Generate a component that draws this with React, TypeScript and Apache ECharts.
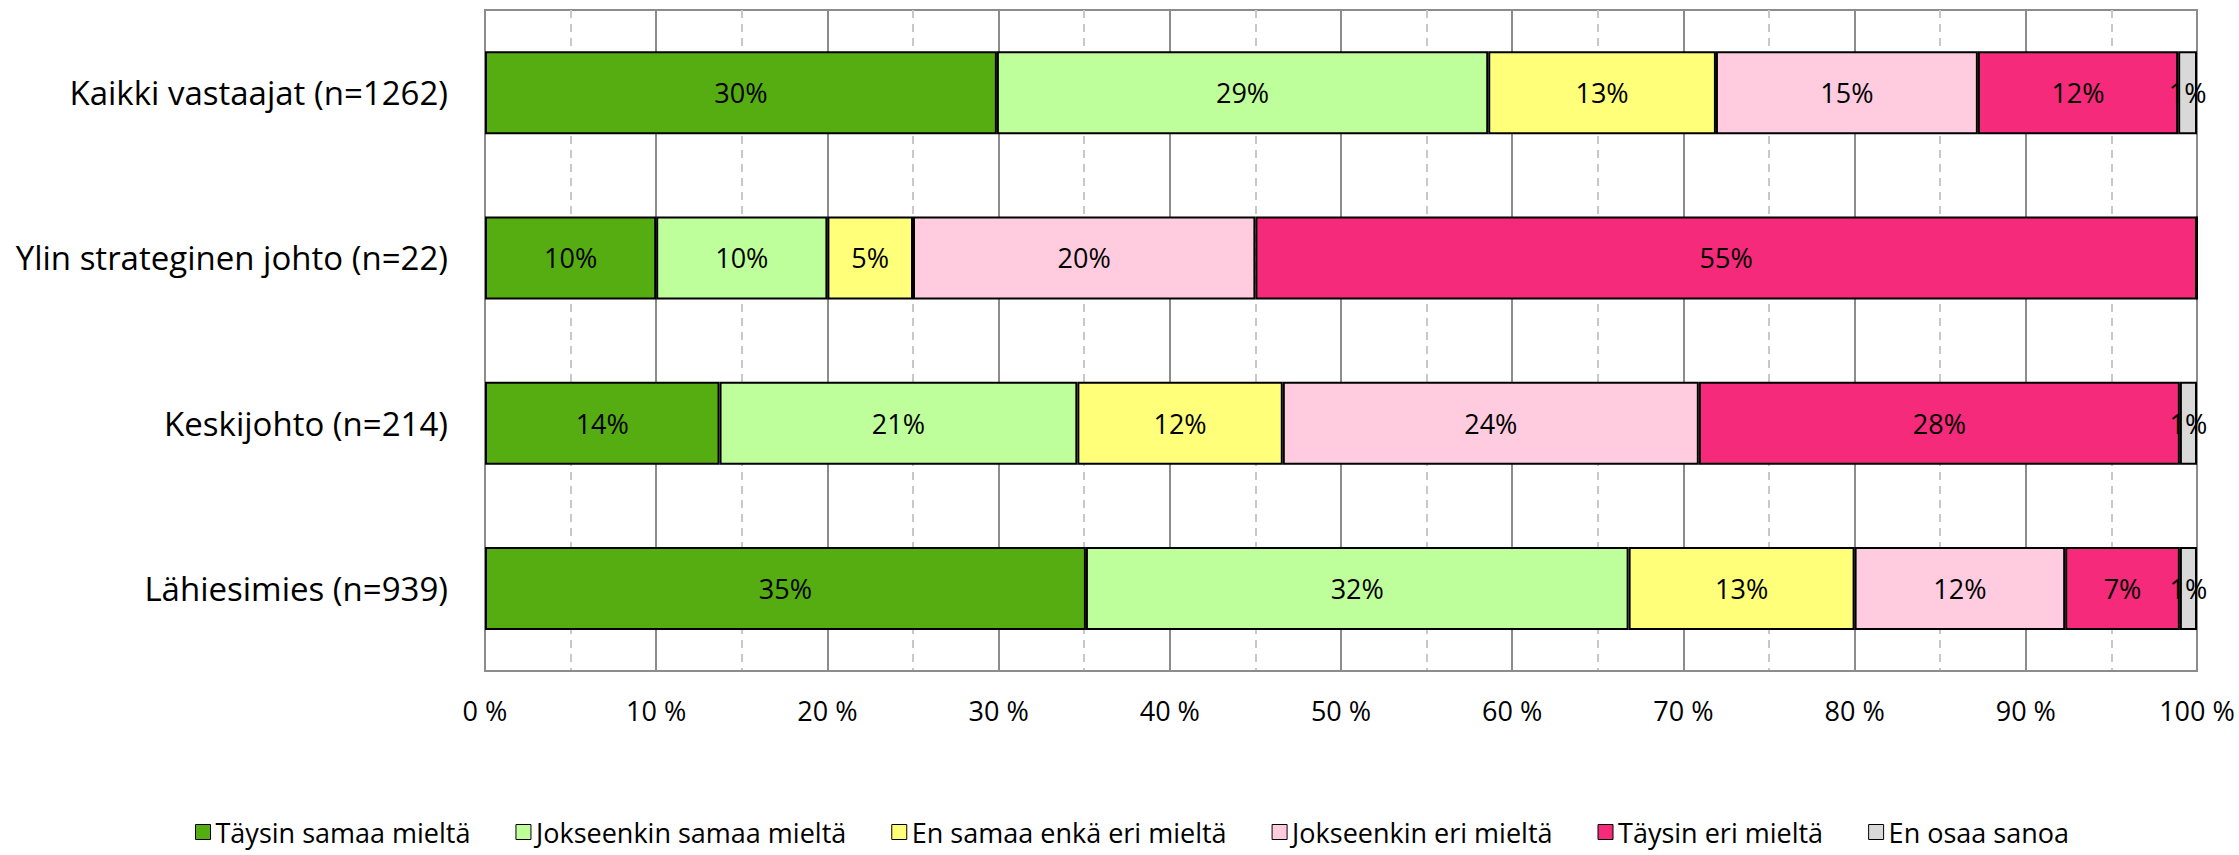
import React, { useEffect, useRef } from 'react';
import * as echarts from 'echarts';

const categories = [
  'Kaikki vastaajat (n=1262)',
  'Ylin strateginen johto (n=22)',
  'Keskijohto (n=214)',
  'Lähiesimies (n=939)',
];
const seriesNames = [
  'Täysin samaa mieltä',
  'Jokseenkin samaa mieltä',
  'En samaa enkä eri mieltä',
  'Jokseenkin eri mieltä',
  'Täysin eri mieltä',
  'En osaa sanoa',
];
const taysinSamaa = [29.9, 10, 13.7, 35.1];
const jokseenkinSamaa = [28.7, 10, 20.9, 31.7];
const enSamaaEnkaEri = [13.3, 5, 12.0, 13.2];
const jokseenkinEri = [15.3, 20, 24.3, 12.3];
const taysinEri = [11.7, 55, 28.1, 6.7];
const enOsaa = [1.1, 0, 1.0, 1.0];
const xTicks = [0, 10, 20, 30, 40, 50, 60, 70, 80, 90, 100];

const seriesValues = [taysinSamaa, jokseenkinSamaa, enSamaaEnkaEri, jokseenkinEri, taysinEri, enOsaa];
const colors = ['#55AD11', '#BFFF9B', '#FFFF7A', '#FFCCDF', '#F52A7A', '#D9D9D9'];

const FONT = 'Open Sans';

export default function App() {
  const ref = useRef<HTMLDivElement>(null);
  useEffect(() => {
    if (!ref.current) return;
    const chart = echarts.init(ref.current, null, { renderer: 'svg' });
    chart.setOption({
      animation: false,
      textStyle: { fontFamily: FONT, color: '#000' },
      grid: {
        left: 485,
        right: 42,
        top: 10,
        bottom: 184,
        show: true,
        borderColor: '#8C8C8C',
        borderWidth: 2,
      },
      legend: {
        data: seriesNames,
        left: 195,
        top: 817,
        padding: 0,
        itemWidth: 15,
        itemHeight: 15,
        itemGap: 45,
        icon: 'rect',
        textStyle: { fontFamily: FONT, fontSize: 27, lineHeight: 30, color: '#000' },
        itemStyle: { borderColor: '#000', borderWidth: 1 },
      },
      xAxis: {
        type: 'value',
        min: xTicks[0],
        max: xTicks[xTicks.length - 1],
        interval: 10,
        axisLine: { show: true, lineStyle: { color: '#8C8C8C', width: 2 } },
        axisTick: { show: false },
        axisLabel: {
          formatter: '{value} %',
          fontFamily: FONT,
          fontSize: 27,
          color: '#000',
          margin: 26,
        },
        splitLine: { show: true, lineStyle: { color: '#8C8C8C', width: 2 } },
        minorTick: { show: false, splitNumber: 2 },
        minorSplitLine: { show: true, lineStyle: { color: '#C8C8C8', width: 2, type: [8, 6] } },
      },
      yAxis: {
        type: 'category',
        data: categories,
        inverse: true,
        axisLine: { show: true, lineStyle: { color: '#8C8C8C', width: 2 } },
        axisTick: { show: false },
        axisLabel: { fontFamily: FONT, fontSize: 33, color: '#000', margin: 37 },
      },
      series: seriesNames.map((name, i) => ({
        name,
        type: 'bar',
        stack: 'total',
        barWidth: 83,
        data: seriesValues[i],
        itemStyle: { color: colors[i], borderColor: '#000', borderWidth: 2 },
        label: {
          show: true,
          position: 'inside',
          fontFamily: FONT,
          fontSize: 27,
          color: '#000',
          formatter: (p: any) => (p.value > 0 ? Math.round(p.value) + '%' : ''),
        },
      })),
    });
    return () => chart.dispose();
  }, []);
  return (
    <div
      ref={ref}
      style={{ position: 'fixed', left: 0, top: 0, width: 2239, height: 855, background: '#fff' }}
    />
  );
}
